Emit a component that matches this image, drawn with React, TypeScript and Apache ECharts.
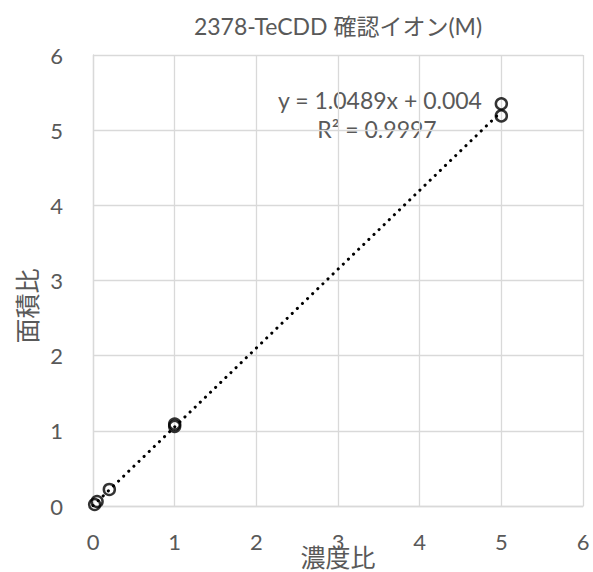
import React, { useEffect, useRef } from "react";
import * as echarts from "echarts";

const concRatio = [0.02, 0.05, 0.2, 1, 1, 5, 5];
const areaRatio = [0.02, 0.06, 0.22, 1.06, 1.09, 5.19, 5.35];
const slope = 1.0489;
const intercept = 0.004;
const trendX = [0, 5];
const equationText = "y = 1.0489x + 0.004";
const r2Text = "R² = 0.9997";
const titleText = "2378-TeCDD 確認イオン(M)";
const xName = "濃度比";
const yName = "面積比";

const FONT = "Lato, 'Noto Sans CJK JP', sans-serif";
const GREY = "#595959";

export default function App() {
  const ref = useRef<HTMLDivElement>(null);
  useEffect(() => {
    const chart = echarts.init(ref.current!, null, { renderer: "svg" });
    chart.setOption({
      animation: false,
      backgroundColor: "#ffffff",
      textStyle: { fontFamily: FONT },
      grid: { left: 93, right: 10, top: 55, bottom: 66, outerBoundsMode: "none", containLabel: false },
      xAxis: {
        type: "value",
        min: 0,
        max: 6,
        interval: 1,
        name: xName,
        nameLocation: "middle",
        nameGap: 38,
        nameMoveOverlap: false,
        nameTextStyle: { fontFamily: FONT, fontSize: 25, color: GREY },
        axisLine: { show: true, lineStyle: { color: "#d9d9d9", width: 1.3 } },
        axisTick: { show: false },
        axisLabel: { fontFamily: FONT, fontSize: 22, color: GREY, margin: 24 },
        splitLine: { show: true, lineStyle: { color: "#d9d9d9", width: 1.3 } },
      },
      yAxis: {
        type: "value",
        min: 0,
        max: 6,
        interval: 1,
        axisLine: { show: true, lineStyle: { color: "#d9d9d9", width: 1.3 } },
        axisTick: { show: false },
        axisLabel: { fontFamily: FONT, fontSize: 22, color: GREY, margin: 30 },
        splitLine: { show: true, lineStyle: { color: "#d9d9d9", width: 1.3 } },
      },
      graphic: [
        {
          type: "text",
          x: 338,
          y: 26,
          style: {
            text: titleText,
            font: `23px ${FONT}`,
            fill: GREY,
            textAlign: "center",
            textVerticalAlign: "middle",
          },
        },
        {
          type: "text",
          x: 27,
          y: 306,
          rotation: Math.PI / 2,
          style: {
            text: yName,
            font: `25px ${FONT}`,
            fill: GREY,
            textAlign: "center",
            textVerticalAlign: "middle",
          },
        },
        {
          type: "text",
          x: 380,
          y: 100,
          style: {
            text: equationText,
            font: `23px ${FONT}`,
            fill: GREY,
            textAlign: "center",
            textVerticalAlign: "middle",
          },
        },
        {
          type: "text",
          x: 377,
          y: 129,
          style: {
            text: r2Text,
            font: `23px ${FONT}`,
            fill: GREY,
            textAlign: "center",
            textVerticalAlign: "middle",
          },
        },
      ],
      series: [
        {
          type: "line",
          data: trendX.map((x) => [x, slope * x + intercept]),
          symbol: "none",
          lineStyle: { color: "#000000", width: 3, type: [0.1, 7], cap: "round" },
          z: 2,
        },
        {
          type: "scatter",
          data: concRatio.map((x, i) => [x, areaRatio[i]]),
          symbol: "circle",
          symbolSize: 11,
          itemStyle: { color: "rgba(255,255,255,0)", borderColor: "#000000", borderWidth: 2.5 },
          z: 3,
        },
      ],
    });
    return () => chart.dispose();
  }, []);
  return <div ref={ref} style={{ width: 593, height: 572, position: "absolute", left: 0, top: 0 }} />;
}
